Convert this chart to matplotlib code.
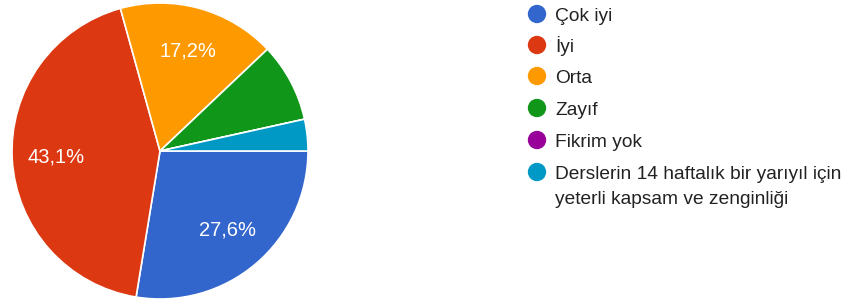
import matplotlib
matplotlib.use('Agg')
import matplotlib.pyplot as plt

plt.rcParams['font.family'] = ['Liberation Sans', 'DejaVu Sans']

# answers (counts) for each option
categories = ['Çok iyi', 'İyi', 'Orta', 'Zayıf', 'Fikrim yok',
              'Derslerin 14 haftalık bir yarıyıl için\nyeterli kapsam ve zenginliği']
counts = [16, 25, 10, 5, 0, 2]
colors = ['#3366CC', '#DC3912', '#FF9900', '#109618', '#990099', '#0099C6']

W, H = 859, 305
fig = plt.figure(figsize=(W / 100, H / 100), dpi=100)

# pie axes: centre (160,151), radius 148 px
cx, cy, r = 160, 151, 148
ax = fig.add_axes([(cx - r) / W, (H - cy - r) / H, 2 * r / W, 2 * r / H])


def pct(p):
    # google hides labels on the small slices
    if p < 10:
        return ''
    return ('%.1f%%' % p).replace('.', ',')


wedges, texts, autotexts = ax.pie(
    counts, colors=colors, startangle=0, counterclock=False,
    autopct=pct, pctdistance=0.7, radius=1,
    wedgeprops=dict(edgecolor='white', linewidth=1.2),
    textprops=dict(color='white', fontsize=14.5))
ax.set_xlim(-1, 1)
ax.set_ylim(-1, 1)
ax.set_aspect('equal')
ax.axis('off')

# legend drawn by hand so the dot sits on the first line
lax = fig.add_axes([0, 0, 1, 1])
lax.set_xlim(0, W)
lax.set_ylim(H, 0)
lax.axis('off')
baselines = [21, 52, 83, 115, 147, 179]
for lab, col, y in zip(categories, colors, baselines):
    lax.scatter([537], [y - 7], s=175, color=col, edgecolors='none')
    for k, line in enumerate(lab.split('\n')):
        lax.text(555, y + 25 * k, line, fontsize=13.8, color='#222222',
                 va='baseline', ha='left')

fig.savefig('out.png', dpi=100)
